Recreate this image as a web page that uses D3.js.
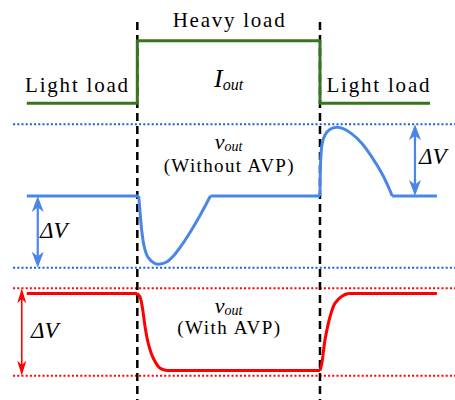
<!DOCTYPE html>
<html>
<head>
<meta charset="utf-8">
<script src="https://cdn.jsdelivr.net/npm/d3@7"></script>
<style>
  html, body { margin: 0; padding: 0; background: #fff; }
  svg { display: block; }
</style>
</head>
<body>
<script>
// Load-step timing (µs)
const stepTimes = [3.0, 7.0];

// Output current: light / heavy load (A)
const currentT = [0.58, 3.0, 3.0, 7.0, 7.0, 9.41];
const currentA = [5, 5, 25, 25, 5, 5];

// v_out without AVP, in units of ΔV around the nominal voltage
const noAvpT = [0.58, 3.03, 3.06, 3.10, 3.16, 3.24, 3.38, 3.50, 3.64, 3.80, 4.00, 4.20, 4.40, 4.60,
                7.0, 7.015, 7.05, 7.11, 7.22, 7.37, 7.51, 7.69, 7.91, 8.13, 8.35, 8.53, 8.58, 9.56];
const noAvpV = [0, 0, -0.22, -0.50, -0.73, -0.86, -0.94, -0.95, -0.92, -0.83, -0.66, -0.46, -0.24, 0,
                0, 0.50, 0.74, 0.85, 0.93, 0.96, 0.94, 0.87, 0.74, 0.55, 0.32, 0.08, 0, 0];
const noAvpBand = [-1, 1];

// v_out with AVP, in units of ΔV around the window centre
const avpT = [0.58, 3.0, 3.06, 3.12, 3.17, 3.24, 3.35, 3.50, 3.64,
              7.0, 7.04, 7.11, 7.22, 7.33, 7.48, 7.62, 9.56];
const avpV = [0.44, 0.44, 0.40, 0.25, 0.06, -0.13, -0.30, -0.415, -0.44,
              -0.44, -0.36, -0.09, 0.175, 0.33, 0.41, 0.44, 0.44];
const avpBand = [-0.5, 0.5];

const W = 455, H = 400;
const SERIF = "'Liberation Serif', 'DejaVu Serif', serif";
const svg = d3.select("body").append("svg").attr("width", W).attr("height", H);

const x = d3.scaleLinear().domain([0, 10]).range([0.3, 457]);
const yI = d3.scaleLinear().domain([5, 25]).range([103.3, 40.7]);
const yB = d3.scaleLinear().domain([-1, 1]).range([267.7, 124.3]);
const yR = d3.scaleLinear().domain([-0.5, 0.5]).range([375.7, 288.3]);

const green = "#38761d", blue = "#4a86e8", blueDot = "#1a5fd6", red = "#ff0000";

// dotted ΔV window limits
const guideT = [0.28, 10];
function hGuide(yv, color) {
  svg.append("line")
    .attr("x1", x(guideT[0])).attr("x2", x(guideT[1]))
    .attr("y1", yv).attr("y2", yv)
    .attr("stroke", color).attr("stroke-width", 2)
    .attr("stroke-dasharray", "2,2.2");
}
noAvpBand.forEach(v => hGuide(yB(v), blueDot));
avpBand.forEach(v => hGuide(yR(v), red));

// load-step markers
stepTimes.forEach(t => {
  svg.append("line")
    .attr("x1", x(t)).attr("x2", x(t))
    .attr("y1", 22).attr("y2", H)
    .attr("stroke", "#000").attr("stroke-width", 2.5)
    .attr("stroke-dasharray", "8,5");
});

// traces: flat stretches are straight, transients are smooth
function trace(ts, vs, yScale, color) {
  const pts = ts.map((t, i) => [t, vs[i]]);
  const straight = d3.line().x(d => x(d[0])).y(d => yScale(d[1]));
  const smooth = d3.line().x(d => x(d[0])).y(d => yScale(d[1])).curve(d3.curveCatmullRom.alpha(0.5));
  let d = "";
  let i = 0;
  while (i < pts.length - 1) {
    const flat = pts[i][1] === pts[i + 1][1] || pts[i][0] === pts[i + 1][0];
    let j = i + 1;
    while (j < pts.length - 1) {
      const nFlat = pts[j][1] === pts[j + 1][1] || pts[j][0] === pts[j + 1][0];
      if (nFlat !== flat) break;
      j++;
    }
    d += (flat ? straight : smooth)(pts.slice(i, j + 1));
    i = j;
  }
  svg.append("path")
    .attr("d", d)
    .attr("fill", "none").attr("stroke", color).attr("stroke-width", 3)
    .attr("stroke-linejoin", "round");
}
trace(currentT, currentA, yI, green);
trace(noAvpT, noAvpV, yB, blue);
trace(avpT, avpV, yR, red);

// double-headed ΔV arrows
function arrow(t, y1, y2, color, sw, len, wid) {
  const xp = x(t);
  svg.append("line")
    .attr("x1", xp).attr("x2", xp)
    .attr("y1", y1 + len * 0.7).attr("y2", y2 - len * 0.7)
    .attr("stroke", color).attr("stroke-width", sw);
  const head = (ty, dir) => {
    const p = d3.path();
    p.moveTo(xp, ty);
    p.lineTo(xp + wid / 2, ty + dir * len);
    p.lineTo(xp, ty + dir * len * 0.72);
    p.lineTo(xp - wid / 2, ty + dir * len);
    p.closePath();
    svg.append("path").attr("d", p.toString()).attr("fill", color);
  };
  head(y1, 1);
  head(y2, -1);
}
arrow(9.08, yB(1), yB(0), blue, 2.2, 16, 12);
arrow(0.82, yB(0), yB(-1), blue, 2.2, 16, 12);
arrow(0.47, yR(0.5), yR(-0.5), red, 1.6, 15, 9);

// labels
function label(txt, cx, by, size, len) {
  svg.append("text")
    .attr("x", cx).attr("y", by)
    .attr("text-anchor", "middle")
    .attr("font-family", SERIF)
    .attr("font-size", size)
    .attr("fill", "#000")
    .attr("textLength", len).attr("lengthAdjust", "spacing")
    .text(txt);
}
label("Heavy load", x(5), 27, 21, 112);
label("Light load", x(1.67), 92, 21, 103);
label("Light load", x(8.27), 92, 21, 103);
label("(Without AVP)", x(5), 172, 19, 130);
label("(With AVP)", x(5), 334, 19, 103);

function sym(main, sub, cx, by, size, subSize, subDy) {
  const t = svg.append("text")
    .attr("x", cx).attr("y", by)
    .attr("text-anchor", "middle")
    .attr("font-family", SERIF)
    .attr("font-style", "italic")
    .attr("fill", "#000");
  t.append("tspan").attr("font-size", size).text(main);
  t.append("tspan").attr("font-size", subSize).attr("dy", subDy).text(sub);
}
sym("I", "out", x(5), 87, 26, 16, 3);
sym("v", "out", x(5), 149, 22, 14, 2);
sym("v", "out", x(5), 313, 22, 14, 2);

function dv(xl, by) {
  svg.append("text")
    .attr("x", xl).attr("y", by)
    .attr("font-family", SERIF)
    .attr("font-size", 23).attr("font-style", "italic")
    .attr("fill", "#000")
    .text("ΔV");
}
dv(419, 164);
dv(40, 238);
dv(31, 338);
</script>
</body>
</html>
